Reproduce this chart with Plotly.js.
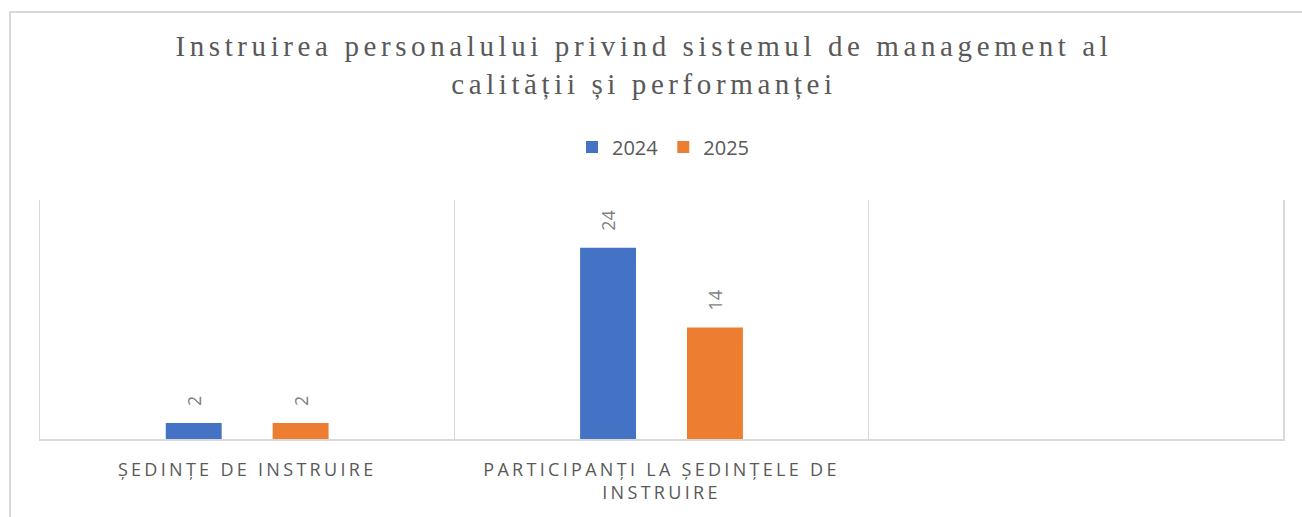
<!DOCTYPE html>
<html>
<head>
<meta charset="utf-8">
<script src="https://cdn.plot.ly/plotly-3.0.1.min.js"></script>
<style>
  html, body { margin: 0; padding: 0; background: #ffffff; overflow: hidden; }
  #chart { width: 1302px; height: 517px; position: absolute; left: 0; top: 0; }
  #frame { position: absolute; left: 9px; top: 11px; width: 2000px; height: 1000px;
           border-left: 2px solid #d9d9d9; border-top: 2px solid #d9d9d9; pointer-events: none; }
  .gtitle { letter-spacing: 4.6px; }
  .xtick text { letter-spacing: 3.3px; }
</style>
</head>
<body>
<div id="chart"></div>
<div id="frame"></div>
<script>
const categories = [
  "ȘEDINȚE DE INSTRUIRE",
  "PARTICIPANȚI LA ȘEDINȚELE DE<br>INSTRUIRE",
  " "
];
const seriesNames = ["2024", "2025"];
const values2024 = [2, 24, null];
const values2025 = [2, 14, null];
const seriesColors = ["#4472C4", "#ED7D31"];
const chartTitle = "Instruirea personalului privind sistemul de management al<br>calităţii și performanței".replace(/ţ/g, "ț");

const labelFont = { family: "Open Sans, sans-serif", size: 18, color: "#7f7f7f" };
const pad = "\u00a0\u00a0\u00a0";

function makeTrace(name, vals, color) {
  return {
    type: "bar",
    name: name,
    x: categories,
    y: vals,
    marker: { color: color },
    text: vals.map(v => v === null ? "" : pad + v),
    texttemplate: "%{text}",
    textposition: "outside",
    textangle: -90,
    textfont: labelFont,
    constraintext: "none",
    cliponaxis: false,
    hoverinfo: "none"
  };
}

const data = [
  makeTrace(seriesNames[0], values2024, seriesColors[0]),
  makeTrace(seriesNames[1], values2025, seriesColors[1])
];

const layout = {
  width: 1302,
  height: 517,
  margin: { l: 40, r: 19, t: 200, b: 78, pad: 0 },
  paper_bgcolor: "rgba(0,0,0,0)",
  plot_bgcolor: "#ffffff",
  barmode: "group",
  bargap: 0.484,
  bargroupgap: 0.477,
  showlegend: true,
  title: {
    text: chartTitle,
    font: { family: "Liberation Serif, Times New Roman, serif", size: 29, color: "#595959" },
    x: 0.4946,
    xref: "container",
    xanchor: "center",
    y: 0.892,
    yref: "container",
    yanchor: "top"
  },
  legend: {
    orientation: "h",
    x: 0.5016,
    xanchor: "center",
    y: 1.222,
    yanchor: "middle",
    font: { family: "Open Sans, sans-serif", size: 20, color: "#595959" },
    itemwidth: 30,
    bgcolor: "rgba(0,0,0,0)"
  },
  xaxis: {
    type: "category",
    range: [-0.5, 2.5],
    tickson: "boundaries",
    ticks: "",
    showgrid: true,
    gridcolor: "#d9d9d9",
    gridwidth: 1.5,
    showline: true,
    linecolor: "#d9d9d9",
    linewidth: 2,
    tickfont: { family: "Open Sans, sans-serif", size: 18, color: "#595959" },
    ticklabelstandoff: 13,
    fixedrange: true
  },
  yaxis: {
    range: [0, 30],
    showticklabels: false,
    showgrid: false,
    zeroline: false,
    showline: true,
    mirror: true,
    linecolor: "#d9d9d9",
    linewidth: 1.5,
    ticks: "",
    fixedrange: true
  },
  font: { family: "Open Sans, sans-serif", color: "#595959" }
};

Plotly.newPlot("chart", data, layout, { displayModeBar: false, staticPlot: true });
</script>
</body>
</html>
